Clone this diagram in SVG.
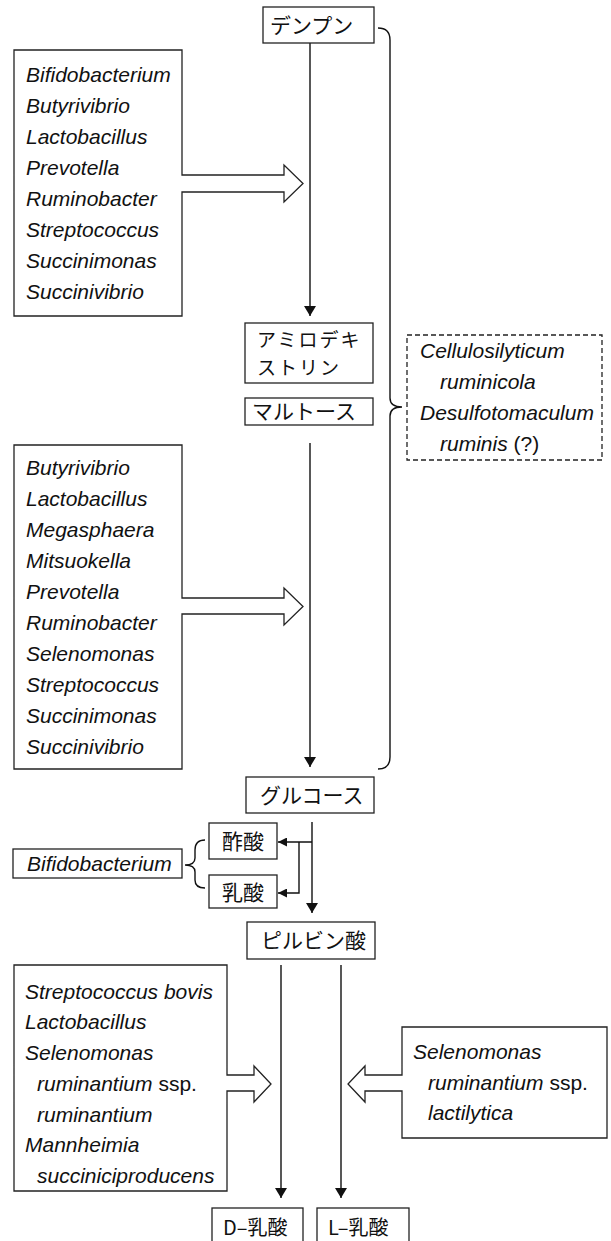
<svg xmlns="http://www.w3.org/2000/svg" width="611" height="1241" viewBox="0 0 611 1241">
<style>
.bx{fill:#fff;stroke:#222;stroke-width:1.3}
.dash{fill:#fff;stroke:#222;stroke-width:1.3;stroke-dasharray:5,3}
.ln{fill:none;stroke:#111;stroke-width:1.4}
.it{font-family:"Liberation Sans",Arial,sans-serif;font-style:italic;font-size:21px;fill:#111}
.up{font-style:normal}
.jp{font-family:"Noto Sans CJK JP","Noto Sans",sans-serif;font-size:21px;fill:#111}
.jp2{font-family:"Noto Sans CJK JP","Noto Sans",sans-serif;font-size:20px;fill:#111}
.jp3{font-family:"Noto Sans CJK JP","Noto Sans",sans-serif;font-size:19px;letter-spacing:2px;fill:#111}
</style>
<defs>
<marker id="ah" viewBox="0 0 10 12" refX="10" refY="6" markerWidth="10" markerHeight="12" orient="auto" markerUnits="userSpaceOnUse"><path d="M0,0 L10,6 L0,12 z" fill="#111"/></marker>
<marker id="ahs" viewBox="0 0 10 10" refX="10" refY="5" markerWidth="9" markerHeight="9" orient="auto" markerUnits="userSpaceOnUse"><path d="M0,0 L10,5 L0,10 z" fill="#111"/></marker>
</defs>

<g id="connectors">
<line class="ln" x1="310" y1="43" x2="310" y2="316" marker-end="url(#ah)"/>
<line class="ln" x1="310" y1="443" x2="310" y2="767" marker-end="url(#ah)"/>
<line class="ln" x1="312" y1="822" x2="312" y2="913" marker-end="url(#ah)"/>
<line class="ln" x1="312" y1="842" x2="278" y2="842" marker-end="url(#ahs)"/>
<polyline class="ln" points="299,842 299,893 278,893" marker-end="url(#ahs)"/>
<line class="ln" x1="281" y1="965" x2="281" y2="1198" marker-end="url(#ah)"/>
<line class="ln" x1="341" y1="965" x2="341" y2="1198" marker-end="url(#ah)"/>
<path class="ln" d="M378,28 Q390,28 390,40 V398 Q390,407 402,407 Q390,407 390,416 V757 Q390,769 378,769"/>
<path class="ln" d="M205,840 Q195,840 195,850 V858 Q195,865 185,865 Q195,865 195,872 V880 Q195,888 205,888"/>
</g>

<g id="n-denpun">
<rect class="bx" x="263" y="7" width="111" height="36"/>
<text class="jp" x="270" y="33">デンプン</text>
</g>

<g id="n-bact1">
<path class="bx" d="M14,50 H182 V175 H284 V165 L303,183.5 L284,202 V192 H182 V316 H14 Z"/>
<text class="it" x="26" y="82">Bifidobacterium</text>
<text class="it" x="26" y="113">Butyrivibrio</text>
<text class="it" x="26" y="144">Lactobacillus</text>
<text class="it" x="26" y="175">Prevotella</text>
<text class="it" x="26" y="206">Ruminobacter</text>
<text class="it" x="26" y="237">Streptococcus</text>
<text class="it" x="26" y="268">Succinimonas</text>
<text class="it" x="26" y="299">Succinivibrio</text>
</g>

<g id="n-amylodextrin">
<rect class="bx" x="245" y="323" width="128" height="60"/>
<text class="jp3" x="257" y="347">アミロデキ</text>
<text class="jp3" x="257" y="375">ストリン</text>
</g>

<g id="n-maltose">
<rect class="bx" x="245" y="398" width="128" height="27"/>
<text class="jp" x="252" y="419">マルトース</text>
</g>

<g id="n-cellulo">
<rect class="dash" x="407" y="335" width="195" height="125"/>
<text class="it" x="420" y="358">Cellulosilyticum</text>
<text class="it" x="440" y="389">ruminicola</text>
<text class="it" x="420" y="420">Desulfotomaculum</text>
<text class="it" x="440" y="451">ruminis<tspan class="up"> (?)</tspan></text>
</g>

<g id="n-bact2">
<path class="bx" d="M14,445 H182 V598 H284 V588 L303,606.5 L284,625 V614 H182 V769 H14 Z"/>
<text class="it" x="26" y="475">Butyrivibrio</text>
<text class="it" x="26" y="506">Lactobacillus</text>
<text class="it" x="26" y="537">Megasphaera</text>
<text class="it" x="26" y="568">Mitsuokella</text>
<text class="it" x="26" y="599">Prevotella</text>
<text class="it" x="26" y="630">Ruminobacter</text>
<text class="it" x="26" y="661">Selenomonas</text>
<text class="it" x="26" y="692">Streptococcus</text>
<text class="it" x="26" y="723">Succinimonas</text>
<text class="it" x="26" y="754">Succinivibrio</text>
</g>

<g id="n-glucose">
<rect class="bx" x="246" y="777" width="128" height="36"/>
<text class="jp" x="260" y="803">グルコース</text>
</g>

<g id="n-acetic">
<rect class="bx" x="209" y="823" width="68" height="36"/>
<text class="jp" x="222" y="849">酢酸</text>
</g>

<g id="n-lactic">
<rect class="bx" x="209" y="875" width="68" height="33"/>
<text class="jp" x="222" y="900">乳酸</text>
</g>

<g id="n-bifido">
<rect class="bx" x="13" y="849" width="169" height="29"/>
<text class="it" x="27" y="871">Bifidobacterium</text>
</g>

<g id="n-pyruvate">
<rect class="bx" x="247" y="922" width="128" height="37"/>
<text class="jp" x="261" y="948">ピルビン酸</text>
</g>

<g id="n-bact3">
<path class="bx" d="M14,965 H227 V1075 H254 V1066 L271,1084 L254,1102 V1091 H227 V1191 H14 Z"/>
<text class="it" x="25" y="999">Streptococcus bovis</text>
<text class="it" x="25" y="1029">Lactobacillus</text>
<text class="it" x="25" y="1060">Selenomonas</text>
<text class="it" x="37" y="1091">ruminantium<tspan class="up"> ssp.</tspan></text>
<text class="it" x="37" y="1122">ruminantium</text>
<text class="it" x="25" y="1152">Mannheimia</text>
<text class="it" x="37" y="1183">succiniciproducens</text>
</g>

<g id="n-bact4">
<path class="bx" d="M402,1027 H607 V1138 H402 V1091 H365 V1102 L348,1084 L365,1066 V1075 H402 Z"/>
<text class="it" x="413" y="1059">Selenomonas</text>
<text class="it" x="428" y="1090">ruminantium<tspan class="up"> ssp.</tspan></text>
<text class="it" x="428" y="1120">lactilytica</text>
</g>

<g id="n-dlactic">
<rect class="bx" x="212" y="1208" width="91" height="45"/>
<text class="jp2" x="223" y="1235">D–乳酸</text>
</g>

<g id="n-llactic">
<rect class="bx" x="317" y="1208" width="92" height="45"/>
<text class="jp2" x="328" y="1235">L–乳酸</text>
</g>
</svg>
